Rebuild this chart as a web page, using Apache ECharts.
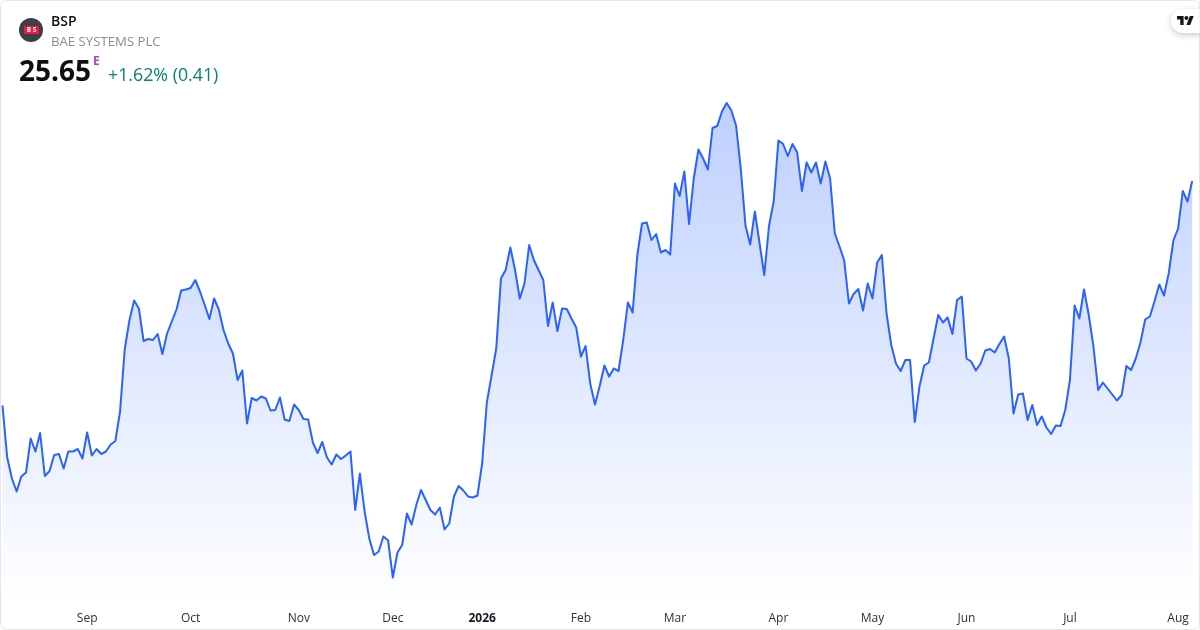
<!DOCTYPE html>
<html><head><meta charset="utf-8">
<style>html,body{margin:0;padding:0;background:#fff}#c{width:1200px;height:630px}</style>
<script src="https://cdn.jsdelivr.net/npm/echarts@6/dist/echarts.min.js"></script>
</head><body><div id="c"></div>
<script>
const symbolName = 'BSP';
const companyName = 'BAE SYSTEMS PLC';
const lastPrice = '25.65';
const changeText = '+1.62% (0.41)';
const tickIndex = [18,40,63,83,102,123,143,165,185,205,227,250];
const tickLabels = ['Sep','Oct','Nov','Dec','2026','Feb','Mar','Apr','May','Jun','Jul','Aug'];
const prices = [
21.16,20.12,19.70,19.44,19.74,19.82,20.50,20.24,20.61,19.75,19.85,20.17,20.19,19.90,20.24,20.24,20.29,20.10,20.62,20.16,
20.29,20.19,20.24,20.38,20.45,21.04,22.29,22.87,23.26,23.10,22.45,22.49,22.47,22.59,22.19,22.60,22.84,23.08,23.46,23.48,
23.51,23.67,23.44,23.17,22.89,23.30,23.08,22.67,22.40,22.20,21.67,21.86,20.80,21.31,21.26,21.34,21.30,21.06,21.07,21.32,
20.88,20.85,21.18,21.07,20.89,20.88,20.42,20.21,20.43,20.12,19.98,20.18,20.09,20.16,20.24,19.07,19.80,19.04,18.50,18.17,
18.24,18.54,18.46,17.72,18.22,18.37,19.00,18.78,19.17,19.47,19.27,19.07,18.98,19.12,18.68,18.80,19.34,19.55,19.46,19.34,
19.32,19.36,20.00,21.22,21.76,22.30,23.70,23.87,24.32,23.87,23.30,23.60,24.37,24.07,23.87,23.67,22.75,23.22,22.65,23.10,
23.09,22.90,22.72,22.14,22.35,21.59,21.18,21.55,21.96,21.74,21.90,21.85,22.47,23.22,23.02,24.17,24.80,24.82,24.47,24.59,
24.22,24.27,24.18,25.60,25.35,25.84,24.79,25.70,26.28,26.10,25.88,26.71,26.75,27.04,27.21,27.06,26.76,25.90,24.76,24.38,
25.04,24.40,23.77,24.75,25.24,26.46,26.39,26.15,26.39,26.22,25.45,26.02,25.82,26.02,25.60,26.04,25.70,24.60,24.34,24.06,
23.20,23.39,23.49,23.06,23.60,23.30,24.02,24.17,23.00,22.37,22.00,21.85,22.07,22.07,20.83,21.54,21.96,22.02,22.50,22.97,
22.82,22.92,22.59,23.27,23.34,22.10,22.04,21.86,22.00,22.26,22.29,22.22,22.39,22.54,22.10,21.00,21.38,21.40,20.87,21.17,
20.77,20.94,20.72,20.59,20.76,20.75,21.07,21.67,23.16,22.90,23.48,22.97,22.34,21.47,21.62,21.50,21.38,21.26,21.37,21.95,
21.87,22.10,22.42,22.88,22.94,23.25,23.58,23.36,23.80,24.46,24.70,25.45,25.24,25.65
];
const categories = prices.map((_, i) => { const k = tickIndex.indexOf(i); return k >= 0 ? tickLabels[k] : ''; });
const font = '"Open Sans","Noto Sans",sans-serif';
const chart = echarts.init(document.getElementById('c'), null, {renderer:'canvas'});
chart.setOption({
  animation:false,
  backgroundColor:'#fff',
  grid:{left:2.5,right:7.8,top:0,height:602,containLabel:false},
  xAxis:{type:'category',boundaryGap:false,data:categories,
    axisLine:{show:false},axisTick:{show:false},splitLine:{show:false},
    axisLabel:{interval:(i)=>tickIndex.includes(i),hideOverlap:false,margin:10.5,fontFamily:font,fontSize:12,color:'#2e3238',
      formatter:(v)=>/^\d+$/.test(v)?'{b|'+v+'}':v,
      rich:{b:{fontFamily:font,fontSize:12,fontWeight:700,color:'#131722'}}}},
  yAxis:{type:'value',min:17.23,max:29.27,show:false,splitLine:{show:false}},
  series:[{type:'line',data:prices,symbol:'none',smooth:false,
    lineStyle:{color:'#2962ff',width:2,join:'round'},
    areaStyle:{opacity:1,color:new echarts.graphic.LinearGradient(0,0,0,1,[
      {offset:0,color:'rgba(41,98,255,0.30)'},{offset:1,color:'rgba(41,98,255,0)'}])}}],
  graphic:[
    {type:'rect',z:100,silent:true,shape:{x:0.5,y:0.5,width:1199,height:629,r:6},style:{fill:'none',stroke:'#e6e6e6',lineWidth:1}},
    {type:'circle',z:100,shape:{cx:31,cy:30,r:12},style:{fill:'#3b3f46'}},
    {type:'rect',z:101,shape:{x:24,y:26,width:15,height:8,r:0.5},style:{fill:'#f0183c'}},
    {type:'text',z:102,style:{x:31.5,y:30,text:'B S',fill:'#fff',font:'700 6.5px '+font,align:'center',verticalAlign:'middle'}},
    {type:'text',z:100,style:{x:51,y:22,text:symbolName,fill:'#0f0f0f',font:'600 14px '+font,verticalAlign:'middle'}},
    {type:'text',z:100,style:{x:51,y:42,text:companyName,fill:'#8a8d96',font:'400 13.2px '+font,verticalAlign:'middle'}},
    {type:'text',z:100,style:{x:19,y:73,text:lastPrice,fill:'#0f0f0f',font:'700 28px '+font,verticalAlign:'middle'}},
    {type:'text',z:100,style:{x:93,y:62,text:'E',fill:'#ab47bc',font:'700 12px '+font,verticalAlign:'middle'}},
    {type:'text',z:100,style:{x:108,y:76,text:changeText,fill:'#0a8270',font:'400 17.8px '+font,verticalAlign:'middle'}},
    {type:'rect',z:100,shape:{x:1171,y:9,width:40,height:24,r:12},style:{fill:'#fff',shadowBlur:6,shadowColor:'rgba(0,0,0,0.22)',shadowOffsetY:2}},
    {type:'rect',z:101,shape:{x:1199.5,y:0,width:1,height:630},style:{fill:'#e6e6e6'}},
    {type:'polygon',z:102,shape:{points:[[1177,16],[1183.6,16],[1183.6,25],[1180.3,25],[1180.3,19.5],[1177,19.5]]},style:{fill:'#131722'}},
    {type:'polygon',z:102,shape:{points:[[1186.4,25],[1189.9,16],[1193.7,16],[1190.2,25]]},style:{fill:'#131722'}},
    {type:'circle',z:102,shape:{cx:1186.4,cy:18,r:2},style:{fill:'#131722'}}
  ]
});
</script></body></html>
